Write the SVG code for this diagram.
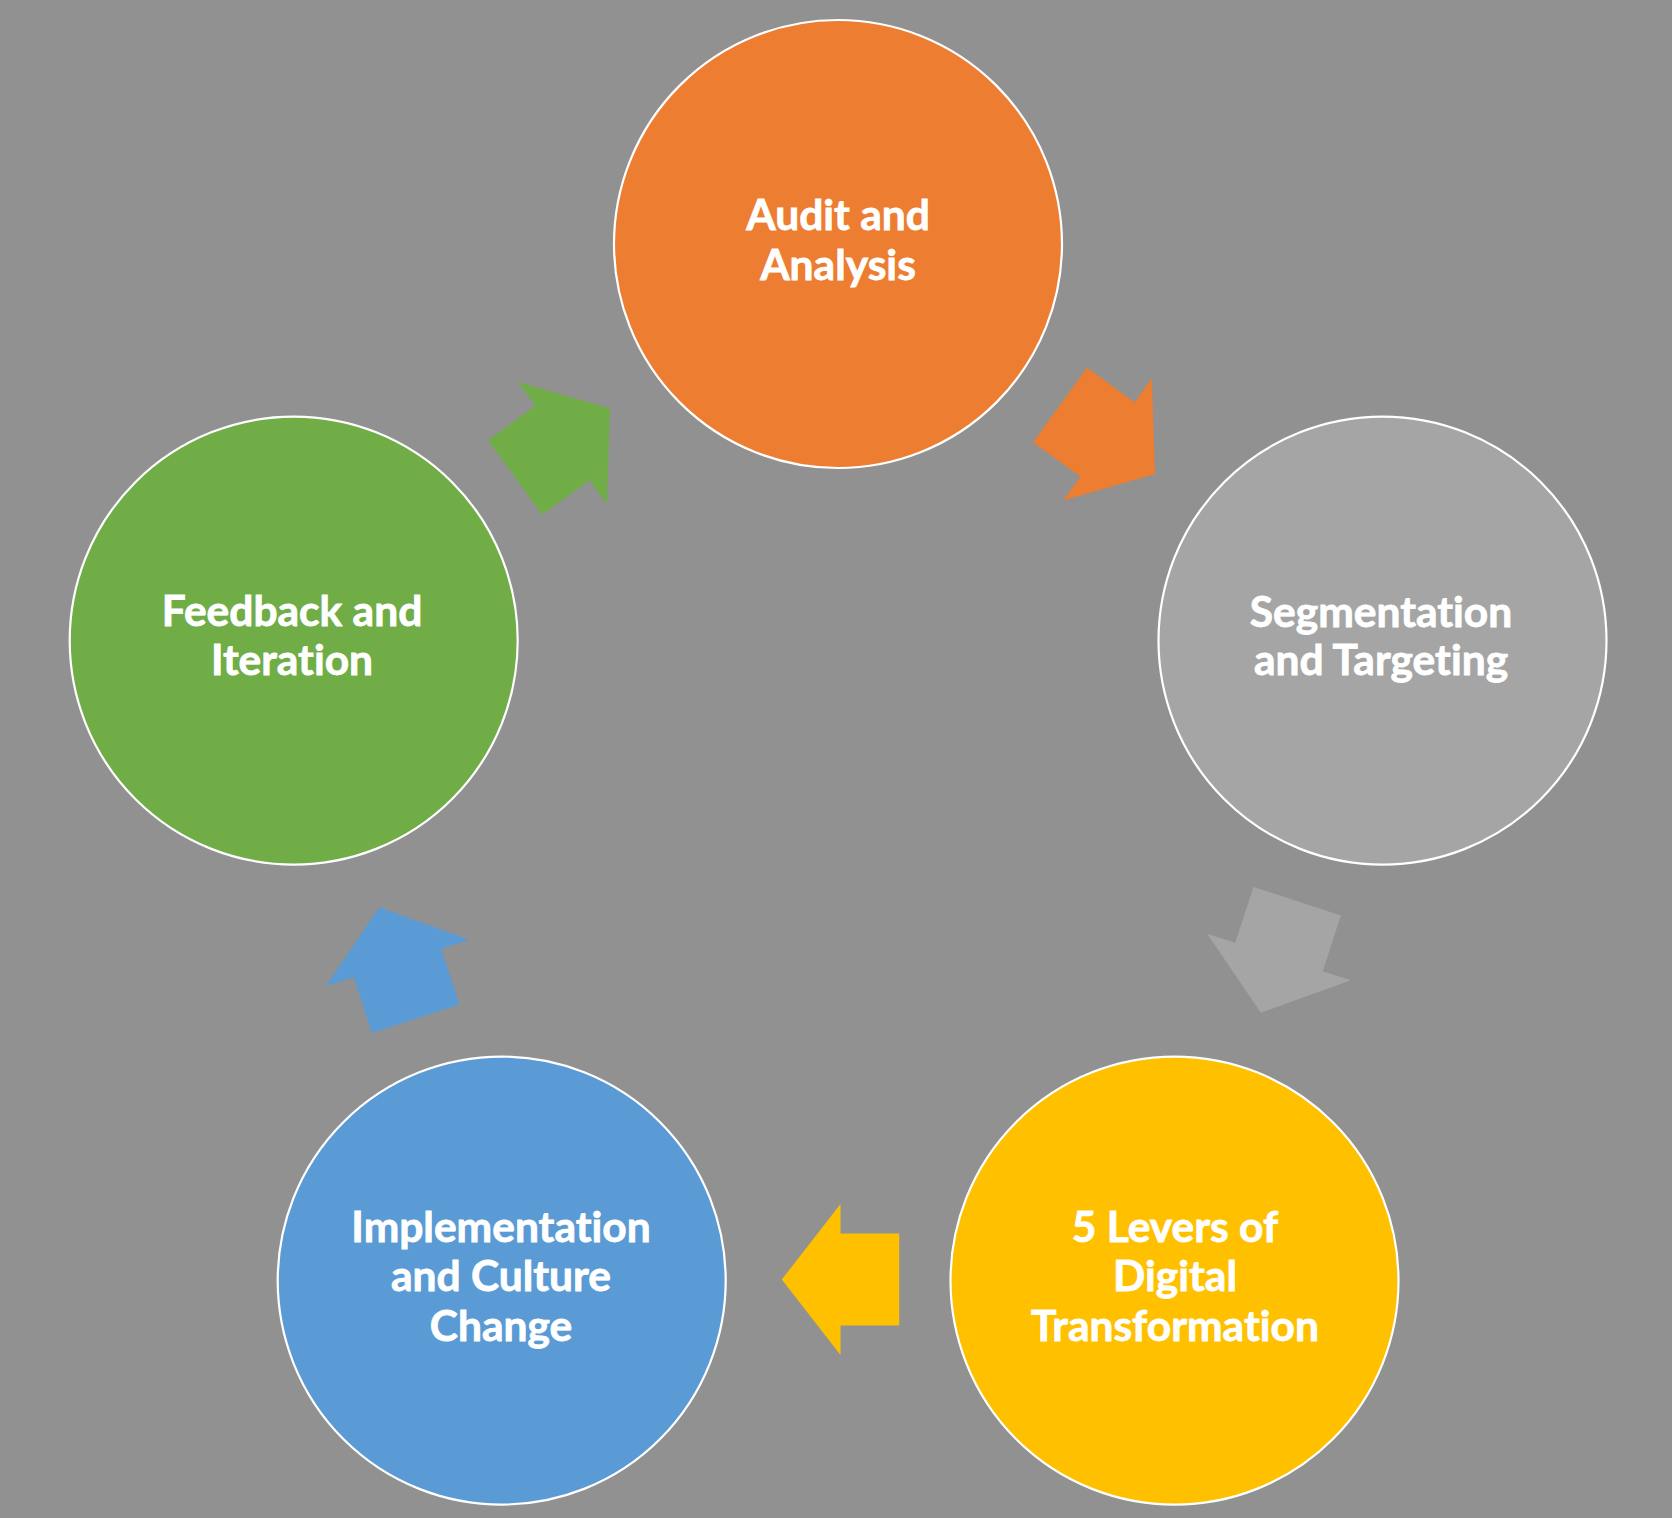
<svg xmlns="http://www.w3.org/2000/svg" xmlns:xlink="http://www.w3.org/1999/xlink" width="1672" height="1518" viewBox="0 0 1672 1518">
  <style>
    .node { stroke: #FFFFFF; stroke-width: 2.2; }
    .label { font-family: "Lato", "Liberation Sans", sans-serif; font-weight: 700; font-size: 42.5px; fill: #FFFFFF; stroke: #FFFFFF; stroke-width: 0.8; text-anchor: middle; font-variant-ligatures: none; font-feature-settings: "liga" 0, "clig" 0; }
  </style>
  <defs>
    <path id="arrow" d="M -58.7 -46 L 0 -46 L 0 -75.5 L 58.7 0 L 0 75.5 L 0 46 L -58.7 46 Z"/>
  </defs>
  <rect x="0" y="0" width="1672" height="1518" fill="#919191"/>

  <g id="connectors">
    <use xlink:href="#arrow" href="#arrow" transform="translate(1107.5,439.5) rotate(36)" fill="#ED7D31"/>
    <use xlink:href="#arrow" href="#arrow" transform="translate(1279,957) rotate(108)" fill="#A5A5A5"/>
    <use xlink:href="#arrow" href="#arrow" transform="translate(840.5,1279.5) rotate(180)" fill="#FFC000"/>
    <use xlink:href="#arrow" href="#arrow" transform="translate(397.5,963) rotate(252)" fill="#5B9BD5"/>
    <use xlink:href="#arrow" href="#arrow" transform="translate(562.5,443) rotate(-36)" fill="#70AD47"/>
  </g>

  <g id="node-audit">
    <circle class="node" cx="838" cy="244" r="224" fill="#ED7D31"/>
    <text class="label" x="838" y="230">Audit and</text>
    <text class="label" x="838" y="280">Analysis</text>
  </g>

  <g id="node-segmentation">
    <circle class="node" cx="1382.5" cy="640.6" r="224" fill="#A5A5A5"/>
    <text class="label" x="1381" y="627">Segmentation</text>
    <text class="label" x="1381" y="675">and Targeting</text>
  </g>

  <g id="node-levers">
    <circle class="node" cx="1174.5" cy="1280.6" r="224" fill="#FFC000"/>
    <text class="label" x="1175" y="1242">5 Levers of</text>
    <text class="label" x="1175" y="1291">Digital</text>
    <text class="label" x="1175" y="1341">Transformation</text>
  </g>

  <g id="node-implementation">
    <circle class="node" cx="501.7" cy="1280.6" r="224" fill="#5B9BD5"/>
    <text class="label" x="501" y="1242">Implementation</text>
    <text class="label" x="501" y="1291">and Culture</text>
    <text class="label" x="501" y="1341">Change</text>
  </g>

  <g id="node-feedback">
    <circle class="node" cx="293.7" cy="640.6" r="224" fill="#70AD47"/>
    <text class="label" x="292" y="626">Feedback and</text>
    <text class="label" x="292" y="675">Iteration</text>
  </g>
</svg>
